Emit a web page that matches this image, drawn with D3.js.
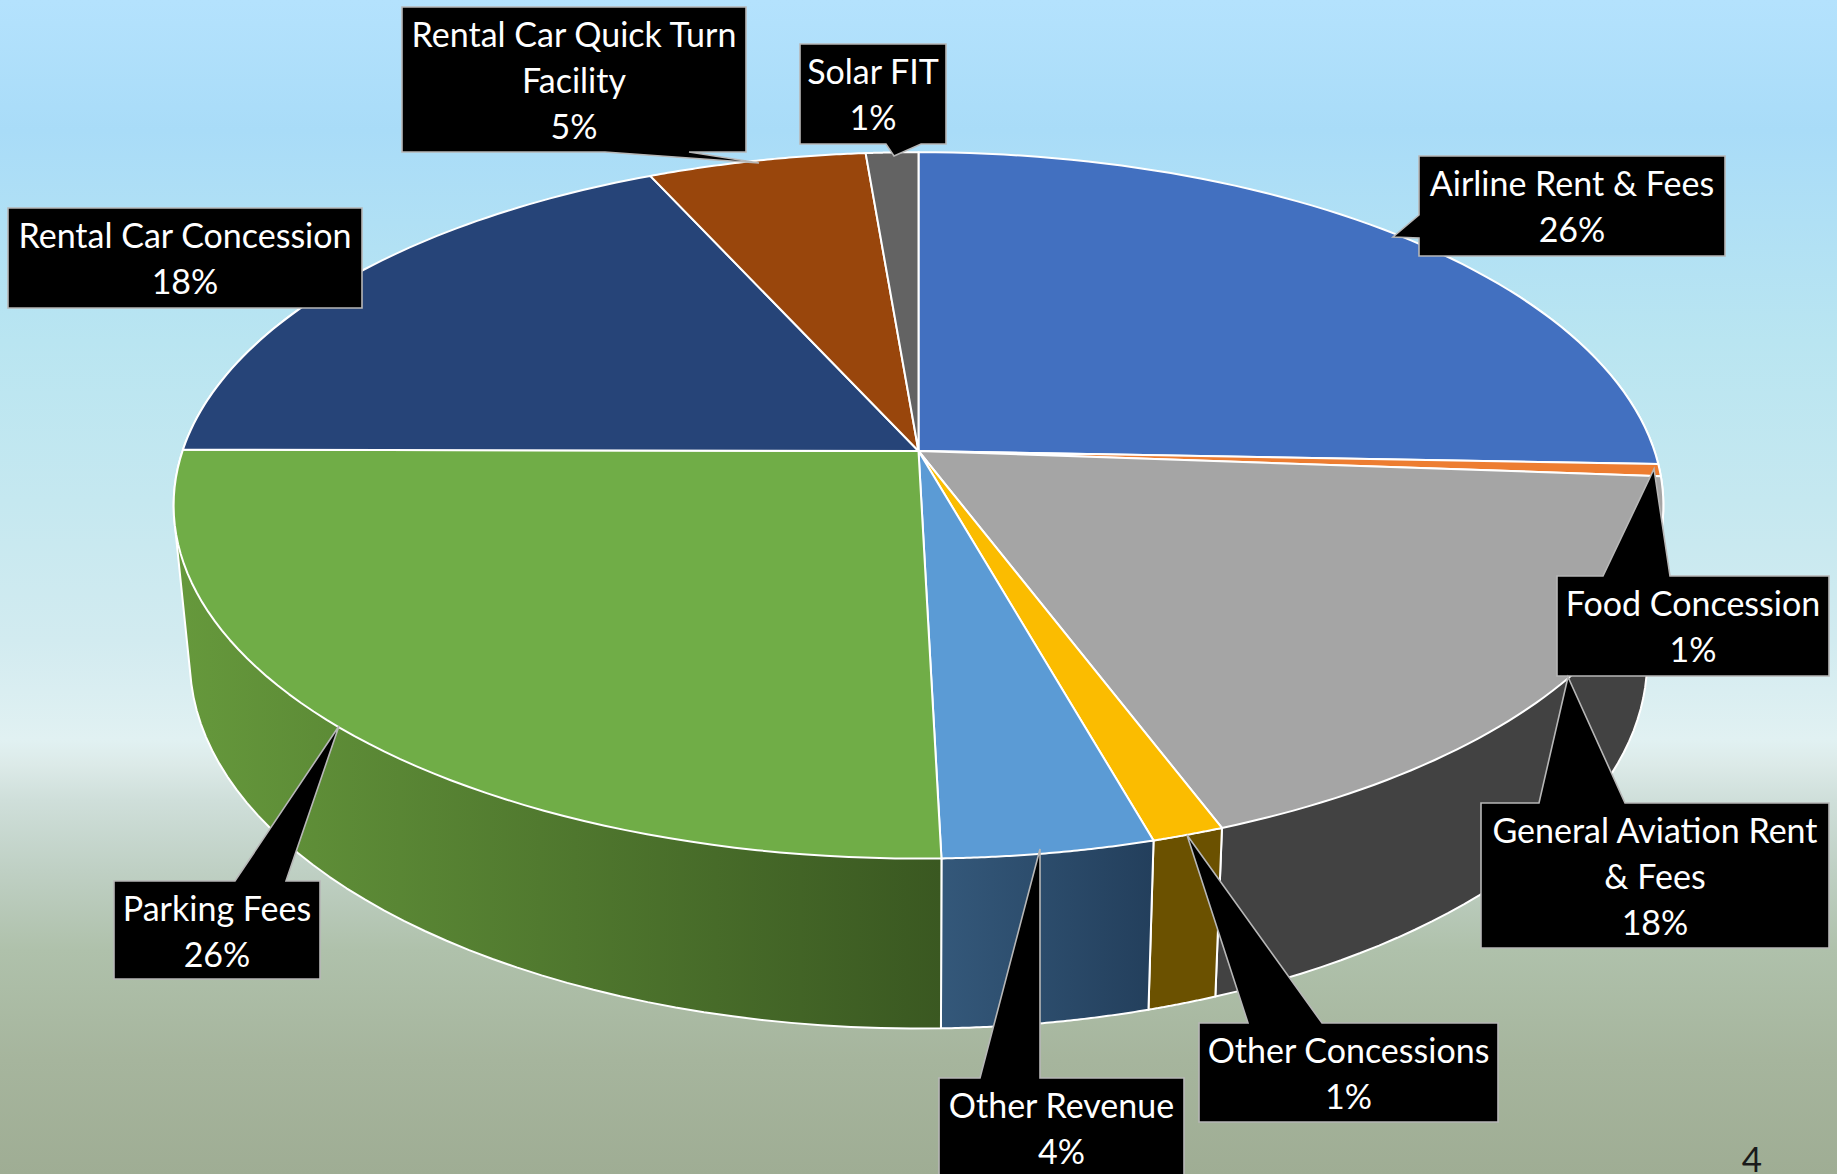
<!DOCTYPE html>
<html><head><meta charset="utf-8">
<script src="https://cdn.jsdelivr.net/npm/d3@7"></script>
<style>html,body{margin:0;padding:0;overflow:hidden;background:#fff}svg{display:block}</style>
</head><body><svg id="c" width="1837" height="1174"></svg>
<script>
// ---- data ----
const categories = ["Airline Rent & Fees","Food Concession","General Aviation Rent & Fees","Other Concessions","Other Revenue","Parking Fees","Rental Car Concession","Rental Car Quick Turn Facility","Solar FIT"];
const values = [25.6,0.55,18.11,1.355,3.965,25.48,18.12,5.5,1.32];
const percentLabels = ["26%","1%","18%","1%","4%","26%","18%","5%","1%"];
const labelLines = [["Airline Rent & Fees"],["Food Concession"],["General Aviation Rent","& Fees"],["Other Concessions"],["Other Revenue"],["Parking Fees"],["Rental Car Concession"],["Rental Car Quick Turn","Facility"],["Solar FIT"]];
const topColors = ["#4270c0","#ed7d31","#a5a5a5","#fbbc00","#5b9bd5","#70ad47","#264478","#99460c","#636363"];
const wallColors = {2:["#424242","#424242"],3:["#6b5100","#6b5100"],4:["#34587a","#233f5c"],5:["#66993c","#3a5821"]};
// callout boxes: [x0,y0,x1,y1], pointer side and base, tip
const callouts = [
 {box:[1419,156,1725,256],side:"left",base:[215,238],tip:[1393,237]},
 {box:[1557,576,1829,676],side:"top",base:[1603,1670],tip:[1654,469]},
 {box:[1481,803,1829,948],side:"top",base:[1539,1625],tip:[1568,677]},
 {box:[1199,1023,1498,1122],side:"top",base:[1248,1322],tip:[1187,835]},
 {box:[939,1078,1184,1190],side:"top",base:[980,1040],tip:[1040,849]},
 {box:[114,881,320,979],side:"top",base:[235,286],tip:[339,726]},
 {box:[8,208,362,308]},
 {box:[402,7,746,152],side:"bottom",base:[605,689],tip:[759,163]},
 {box:[800,44,946,144],side:"bottom",base:[886,921],tip:[894,156]}
];
const bgStops = [[0,"#b4e2fd"],[130,"#a9dcf8"],[340,"#b9e5f1"],[500,"#c5e8f0"],[640,"#d2ebf0"],[740,"#e1f1f2"],[765,"#dceae8"],[800,"#cfdfda"],[870,"#bfd0c4"],[950,"#afc1ab"],[1060,"#a6b59d"],[1174,"#9fad94"]];

// ---- geometry ----
const W=1837,H=1174,persp=0.154;
const xTop=d3.scaleLinear().domain([-1,1]).range([918.5-736,918.5+736]);
const yTop=d3.scaleLinear().domain([-1,1]).range([451-344.8,451+344.8]);
const xRim=d3.scaleLinear().domain([-1,1]).range([918.5-720,918.5+720]);
const yRim=d3.scaleLinear().domain([-1,1]).range([603-360,603+360]);
function proj(a,r,xs,ys){const u=r*Math.sin(a),v=-r*Math.cos(a),w=1-persp*v;return [xs(u/w),ys(v/w)];}
const arcPts=(a0,a1,xs,ys)=>d3.range(0,61).map(i=>proj(a0+(a1-a0)*i/60,1,xs,ys));

const svg=d3.select("#c");
const defs=svg.append("defs");
const bg=defs.append("linearGradient").attr("id","bg").attr("gradientUnits","userSpaceOnUse").attr("x1",0).attr("y1",0).attr("x2",0).attr("y2",H);
bg.selectAll("stop").data(bgStops).join("stop").attr("offset",d=>d[0]/H).attr("stop-color",d=>d[1]);
svg.append("rect").attr("width",W).attr("height",H).attr("fill","url(#bg)");

const slices=d3.pie().sort(null).value(d=>d)(values);
const line=d3.line();
const deg=Math.PI/180;

// side walls
const front=slices.filter(d=>{const m=(d.startAngle+d.endAngle)/2;return m>100*deg&&m<260*deg;});
const wg=svg.append("g");
front.forEach(d=>{
  const c=wallColors[d.index];
  let lo=d.startAngle,hi=d.endAngle;
  if(lo<110*deg&&hi>110*deg) lo=60*deg;
  if(hi>250*deg&&lo<250*deg) hi=300*deg;
  const pts=arcPts(lo,hi,xTop,yTop).concat(arcPts(lo,hi,xRim,yRim));
  const hull=d3.polygonHull(pts);
  const xe=d3.extent(hull,p=>p[0]);
  const id="wall"+d.index;
  const g=defs.append("linearGradient").attr("id",id).attr("gradientUnits","userSpaceOnUse").attr("x1",xe[0]).attr("x2",xe[1]).attr("y1",0).attr("y2",0);
  g.append("stop").attr("offset",0).attr("stop-color",c[0]);
  g.append("stop").attr("offset",1).attr("stop-color",c[1]);
  wg.append("path").attr("d",line(hull)+"Z").attr("fill",`url(#${id})`).attr("stroke","#fff").attr("stroke-width",2).attr("stroke-linejoin","round");
});

// top face
const apex=proj(0,0,xTop,yTop);
svg.append("g").selectAll("path").data(slices).join("path")
  .attr("d",d=>line([apex].concat(arcPts(d.startAngle,d.endAngle,xTop,yTop)))+"Z")
  .attr("fill",d=>topColors[d.index]).attr("stroke","#fff").attr("stroke-width",2).attr("stroke-linejoin","round");

// callouts
function calloutPath(c){
  const [x0,y0,x1,y1]=c.box;const P=[[x0,y0]];
  if(c.side==="top")P.push([c.base[0],y0],c.tip,[c.base[1],y0]);
  P.push([x1,y0],[x1,y1]);
  if(c.side==="bottom")P.push([c.base[1],y1],c.tip,[c.base[0],y1]);
  P.push([x0,y1]);
  if(c.side==="left")P.push([x0,c.base[1]],c.tip,[x0,c.base[0]]);
  return line(P)+"Z";
}
const lg=svg.append("g").selectAll("g").data(callouts).join("g");
lg.append("path").attr("d",calloutPath).attr("fill","#000").attr("stroke","#b7b7b7").attr("stroke-width",1.6);
lg.each(function(c,i){
  const cx=(c.box[0]+c.box[2])/2;
  const rows=labelLines[i].concat([percentLabels[i]]);
  d3.select(this).selectAll("text").data(rows).join("text")
    .attr("x",cx).attr("y",(r,j)=>c.box[1]+39.5+j*46)
    .attr("text-anchor","middle").attr("fill","#fff")
    .attr("font-family","Lato, 'Open Sans', sans-serif").attr("font-size",34).text(r=>r);
});
svg.append("text").attr("x",1752).attr("y",1172).attr("text-anchor","middle").attr("fill","#1a1a1a")
  .attr("font-family","Lato, sans-serif").attr("font-size",35).text("4");
</script></body></html>
